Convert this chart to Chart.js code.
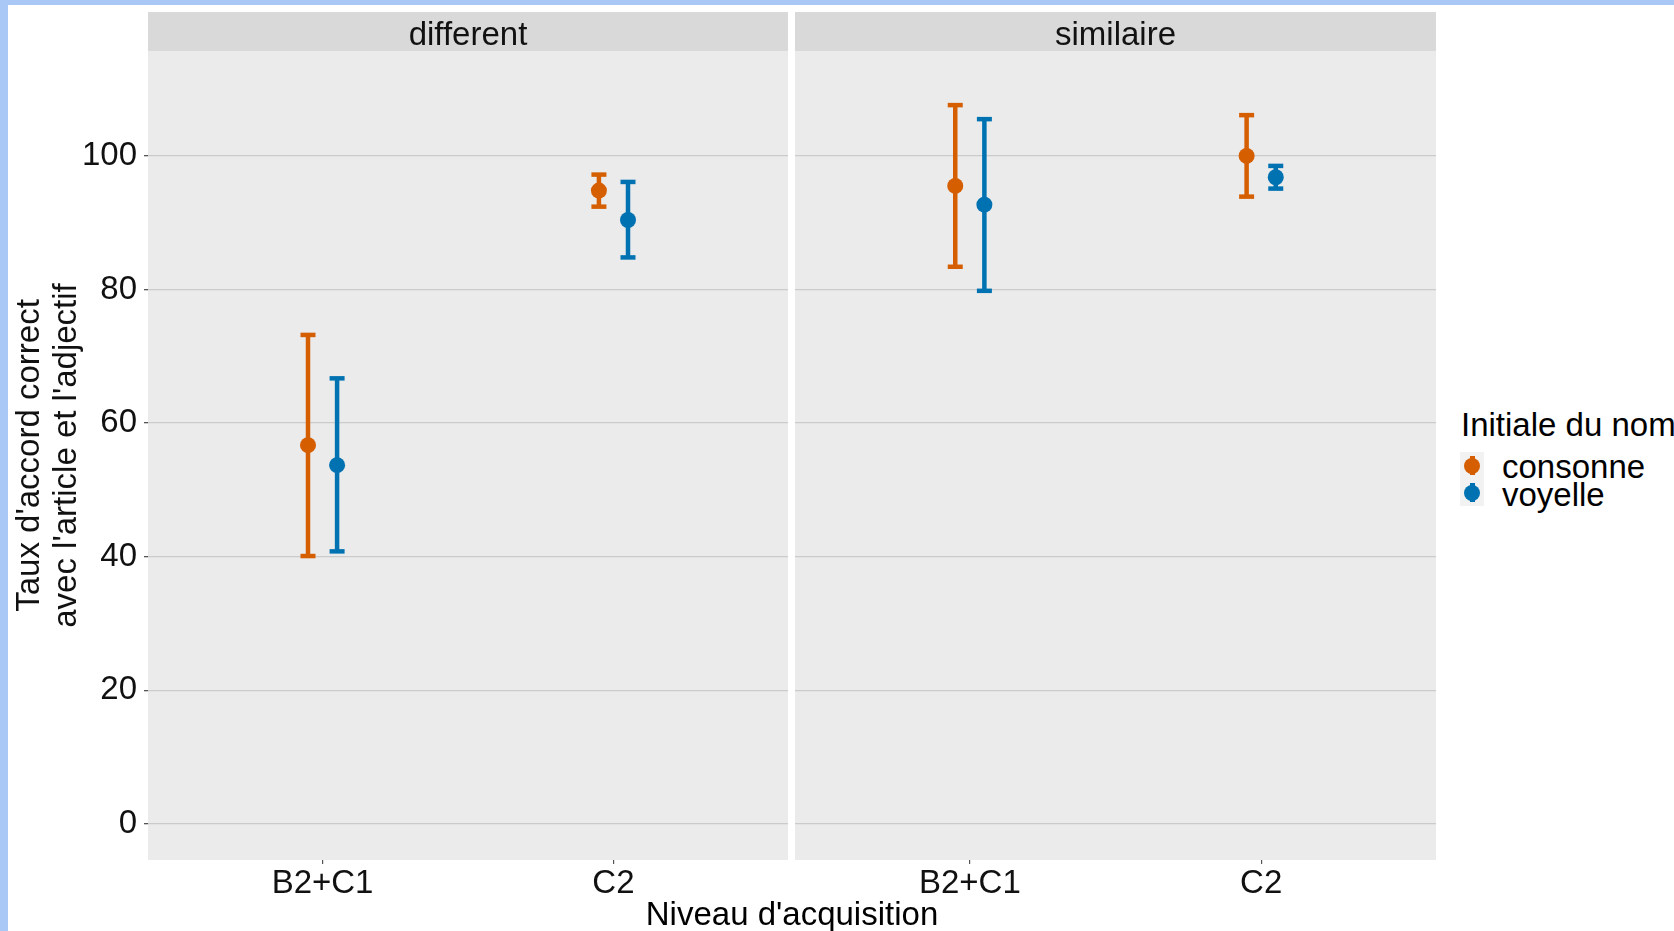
<!DOCTYPE html>
<html>
<head>
<meta charset="utf-8">
<script src="https://cdn.jsdelivr.net/npm/chart.js@4.4.1/dist/chart.umd.min.js"></script>
<style>
  html, body { margin: 0; padding: 0; background: #fff; }
  body { width: 1674px; height: 931px; position: relative; overflow: hidden; font-family: "Liberation Sans", Arial, sans-serif; }
  .edge { position: absolute; background: #aac8f6; }
  .box { position: absolute; }
  .txt { position: absolute; font-size: 33px; line-height: 33px; color: #000; white-space: nowrap; }
  .key { position: absolute; left: 1460px; width: 24px; height: 27px; background: #f2f2f2; }
  .key .bar { position: absolute; left: 9.5px; top: 4px; width: 5px; height: 19px; }
  .key .dot { position: absolute; left: 4px; top: 5.5px; width: 16px; height: 16px; border-radius: 50%; }
</style>
</head>
<body>
<div class="edge" style="left:0;top:0;width:1674px;height:5px"></div>
<div class="edge" style="left:0;top:0;width:8px;height:931px"></div>

<div class="box" style="left:8px;top:5px;width:780px;height:926px"><canvas id="chart-different"></canvas></div>
<div class="box" style="left:795px;top:5px;width:641px;height:926px"><canvas id="chart-similaire"></canvas></div>

<div class="txt" id="xtitle" style="left:792px;top:897px;transform:translateX(-50%)">Niveau d'acquisition</div>

<div class="txt" style="left:1461px;top:408px">Initiale du nom</div>
<div class="key" style="top:452px"><div class="bar" style="background:#D55E00"></div><div class="dot" style="background:#D55E00"></div></div>
<div class="key" style="top:479px"><div class="bar" style="background:#0072B2"></div><div class="dot" style="background:#0072B2"></div></div>
<div class="txt" style="left:1502px;top:450px">consonne</div>
<div class="txt" style="left:1502px;top:478px">voyelle</div>

<script>
// ------------------------------------------------------------
// Data
// ------------------------------------------------------------
const categories = ['B2+C1', 'C2'];
const yTicks = [0, 20, 40, 60, 80, 100];
const groups = ['consonne', 'voyelle'];
const groupColors = ['#D55E00', '#0072B2'];

// facet "different"
const diffConsMean = [56.7, 94.8];
const diffConsLow  = [40.1, 92.4];
const diffConsHigh = [73.2, 97.2];
const diffVoyMean  = [53.7, 90.4];
const diffVoyLow   = [40.8, 84.8];
const diffVoyHigh  = [66.7, 96.1];

// facet "similaire"
const simConsMean = [95.5, 100.0];
const simConsLow  = [83.4, 93.9];
const simConsHigh = [107.6, 106.1];
const simVoyMean  = [92.7, 96.8];
const simVoyLow   = [79.8, 95.1];
const simVoyHigh  = [105.5, 98.5];

const DODGE = 0.05;
const FONT = '"Liberation Sans", Arial, sans-serif';

// ------------------------------------------------------------
// Panel background + strip
// ------------------------------------------------------------
const facetPanel = {
  id: 'facetPanel',
  beforeDraw(chart, args, opts) {
    const { ctx, chartArea: a } = chart;
    ctx.save();
    ctx.fillStyle = '#EBEBEB';
    ctx.fillRect(a.left, a.top, a.right - a.left, a.bottom - a.top);
    ctx.fillStyle = '#D9D9D9';
    ctx.fillRect(a.left, 7, a.right - a.left, a.top - 7);
    ctx.fillStyle = '#111';
    ctx.font = '33px ' + FONT;
    ctx.textAlign = 'center';
    ctx.textBaseline = 'middle';
    ctx.fillText(opts.label, (a.left + a.right) / 2, 31);
    ctx.restore();
  }
};

function buildDatasets(means, lows, highs) {
  const sets = [];
  groups.forEach((g, gi) => {
    const off = gi === 0 ? -DODGE : DODGE;
    sets.push({
      label: g,
      type: 'line',
      showLine: false,
      data: means[gi].map((v, ci) => ({ x: ci + 1 + off, y: v })),
      pointRadius: 8,
      pointHoverRadius: 8,
      pointBackgroundColor: groupColors[gi],
      pointBorderWidth: 0
    });
    categories.forEach((c, ci) => {
      const x = ci + 1 + off;
      sets.push({
        label: g + ' ' + c,
        type: 'line',
        showLine: true,
        data: [{ x, y: lows[gi][ci] }, { x, y: highs[gi][ci] }],
        borderColor: groupColors[gi],
        borderWidth: 4.5,
        pointStyle: 'line',
        pointRadius: 7.5,
        pointHoverRadius: 7.5,
        pointBorderColor: groupColors[gi],
        pointBorderWidth: 4.5
      });
    });
  });
  return sets;
}

function renderFacet(canvasId, label, means, lows, highs, showY) {
  const canvas = document.getElementById(canvasId);
  return new Chart(canvas, {
    type: 'line',
    data: { datasets: buildDatasets(means, lows, highs) },
    plugins: [facetPanel],
    options: {
      responsive: true,
      maintainAspectRatio: false,
      animation: false,
      events: [],
      layout: { autoPadding: false, padding: { top: 46, left: 0, right: 0, bottom: 0 } },
      plugins: {
        legend: { display: false },
        tooltip: { enabled: false },
        facetPanel: { label }
      },
      scales: {
        x: {
          type: 'linear',
          min: 0.4,
          max: 2.6,
          afterBuildTicks: s => { s.ticks = categories.map((c, i) => ({ value: i + 1 })); },
          afterFit: s => { s.height = 71; },
          border: { display: false },
          grid: { drawOnChartArea: false, drawTicks: true, tickLength: 4, tickColor: '#555', lineWidth: 1.2 },
          ticks: {
            padding: 0,
            color: '#111',
            font: { family: FONT, size: 33 },
            maxRotation: 0,
            callback: v => categories[v - 1]
          }
        },
        y: {
          type: 'linear',
          min: -5.4,
          max: 115.7,
          afterBuildTicks: s => { s.ticks = yTicks.map(v => ({ value: v })); },
          afterFit: s => { s.width = showY ? 140 : 0; },
          border: { display: false },
          grid: {
            color: '#CBCBCB',
            lineWidth: 1.3,
            drawTicks: showY,
            tickLength: 4,
            tickColor: '#555'
          },
          ticks: {
            display: showY,
            padding: 7,
            color: '#111',
            font: { family: FONT, size: 33 }
          },
          title: {
            display: showY,
            text: ["Taux d'accord correct", "avec l'article et l'adjectif"],
            color: '#111',
            font: { family: FONT, size: 33, lineHeight: 1.1 },
            padding: { top: 4, bottom: 0 }
          }
        }
      }
    }
  });
}

renderFacet('chart-different', 'different',
  [diffConsMean, diffVoyMean], [diffConsLow, diffVoyLow], [diffConsHigh, diffVoyHigh], true);
renderFacet('chart-similaire', 'similaire',
  [simConsMean, simVoyMean], [simConsLow, simVoyLow], [simConsHigh, simVoyHigh], false);
</script>
</body>
</html>
